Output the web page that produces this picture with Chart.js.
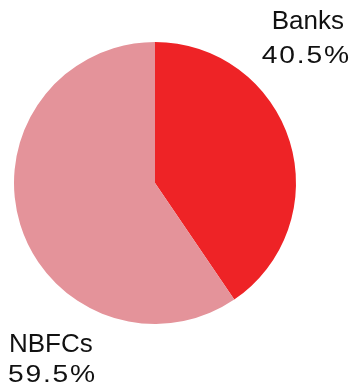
<!DOCTYPE html>
<html>
<head>
<meta charset="utf-8">
<script src="https://cdn.jsdelivr.net/npm/chart.js@4"></script>
<style>
  html, body { margin: 0; padding: 0; background: #fff; }
  #wrap { width: 355px; height: 384px; position: relative; }
</style>
</head>
<body>
<div id="wrap"><canvas id="pieChart"></canvas></div>
<script>
const categories = ['Banks', 'NBFCs'];
const shares = [40.5, 59.5];
const sliceColors = ['#EE2326', '#E4939A'];

// where each slice's text block sits (name baseline, value baseline)
const labelSpots = [
  { nameX: 344, nameY: 29, valueX: 349, valueY: 63, align: 'right' },
  { nameX: 9, nameY: 352, valueX: 8, valueY: 382, align: 'left' }
];

// percentages are drawn a bit wider than the names
const valueStretch = 1.2;
const valueSpacing = 1.5;

function putText(c, txt, x, y, align, spacing, sx) {
  // measured width includes trailing letter spacing, drop it
  const w = (c.measureText(txt).width - spacing) * sx;
  const left = align === 'right' ? x - w : x;
  c.save();
  c.translate(left, y);
  c.scale(sx, 1);
  c.textAlign = 'left';
  c.fillText(txt, 0, 0);
  c.restore();
}

const sliceLabels = {
  id: 'sliceLabels',
  afterDraw(chart) {
    const c = chart.ctx;
    c.save();
    c.fillStyle = '#111';
    c.textBaseline = 'alphabetic';
    categories.forEach((name, i) => {
      const s = labelSpots[i];
      c.font = '26px "Liberation Sans", Arial, sans-serif';
      c.letterSpacing = '0px';
      putText(c, name, s.nameX, s.nameY, s.align, 0, 1);
      c.font = '23.5px "Liberation Sans", Arial, sans-serif';
      c.letterSpacing = valueSpacing + 'px';
      putText(c, shares[i].toFixed(1) + '%', s.valueX, s.valueY, s.align, valueSpacing, valueStretch);
    });
    c.restore();
  }
};

document.addEventListener('DOMContentLoaded', () => {
  const ctx = document.getElementById('pieChart');
  new Chart(ctx, {
    type: 'pie',
    data: {
      labels: categories,
      datasets: [{
        data: shares,
        backgroundColor: sliceColors,
        borderWidth: 0
      }]
    },
    options: {
      responsive: true,
      maintainAspectRatio: false,
      animation: false,
      layout: { padding: { left: 14, right: 59, top: 42, bottom: 60 } },
      plugins: {
        legend: { display: false },
        tooltip: { enabled: false }
      }
    },
    plugins: [sliceLabels]
  });
});
</script>
</body>
</html>
